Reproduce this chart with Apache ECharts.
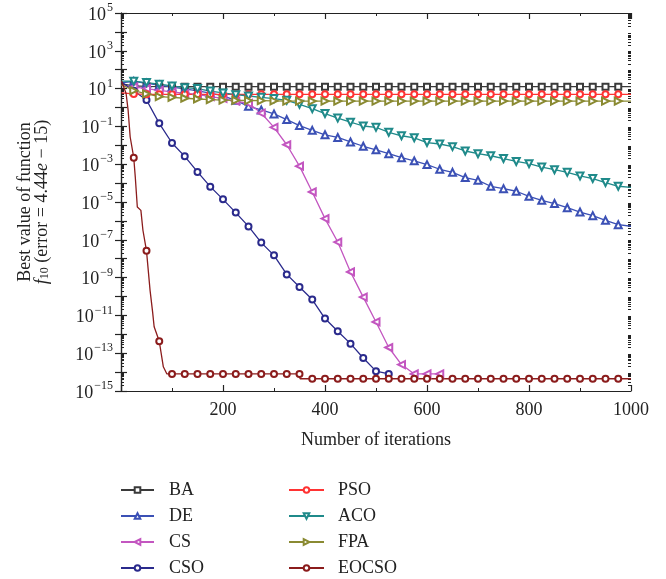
<!DOCTYPE html>
<html>
<head>
<meta charset="utf-8">
<script src="https://cdn.jsdelivr.net/npm/echarts@6/dist/echarts.min.js"></script>
<style>
  html, body { margin: 0; padding: 0; background: #fff; }
  #chart { width: 666px; height: 579px; }
</style>
</head>
<body>
<div id="chart"></div>
<script>
// Convergence of the best value of f10 (Ackley) over 1000 iterations
const iterations = [1, 25, 50, 75, 100, 125, 150, 175, 200, 225, 250, 275, 300, 325, 350, 375, 400, 425, 450, 475,
  500, 525, 550, 575, 600, 625, 650, 675, 700, 725, 750, 775, 800, 825, 850, 875, 900, 925, 950, 975, 1000];

const BA = [18, 14, 13, 12.6, 12.6, 12.6, 12.6, 12.6, 12.6, 12.6, 12.6, 12.6, 12.6, 12.6, 12.6, 12.6, 12.6, 12.6, 12.6, 12.6,
  12.6, 12.6, 12.6, 12.6, 12.6, 12.6, 12.6, 12.6, 12.6, 12.6, 12.6, 12.6, 12.6, 12.6, 12.6, 12.6, 12.6, 12.6, 12.6, 12.6, 12.6];

const PSO = [6, 5.2, 5, 5, 5, 5, 5, 5, 5, 5, 5, 5, 5, 5, 5, 5, 5, 5, 5, 5,
  5, 5, 5, 5, 5, 5, 5, 5, 5, 5, 5, 5, 5, 5, 5, 5, 5, 5, 5, 5, 5];

const DE = [20, 24, 19.1, 15.1, 12.0, 9.55, 7.59, 5.75, 4.17, 2.4, 1.15, 0.74, 0.457, 0.229, 0.11, 0.062, 0.036, 0.026, 0.015, 0.0089,
  0.0058, 0.0036, 0.0022, 0.0015, 0.00095, 5.4e-4, 3.7e-4, 1.95e-4, 1.4e-4, 6.8e-5, 5.1e-5, 3.7e-5, 2.0e-5, 1.23e-5, 8.3e-6, 5.0e-6,
  2.95e-6, 1.9e-6, 1.07e-6, 6.3e-7, 5.2e-7];

const ACO = [25.1, 24.5, 20.9, 17, 13.8, 11.2, 10, 7.41, 5.89, 4.79, 4.07, 3.47, 2.95, 2.4, 1.48, 0.87, 0.48, 0.275, 0.166, 0.105,
  0.089, 0.049, 0.032, 0.025, 0.014, 0.0117, 0.0085, 0.005, 0.0036, 0.0028, 0.002, 0.0014, 0.00107, 7.1e-4, 5.1e-4, 3.7e-4,
  2.4e-4, 1.74e-4, 1.07e-4, 6.8e-5, 6.0e-5];

const CS = [14.8, 12.3, 10, 8.13, 6.76, 5.5, 4.9, 3.8, 3.02, 2.14, 1.66, 0.51, 0.089, 0.0107, 7.9e-4, 3.4e-5, 1.32e-6, 7.6e-8, 2.0e-9, 9.3e-11,
  4.5e-12, 2.0e-13, 2.5e-14, 7.99e-15, 7.99e-15, 7.99e-15,
  null, null, null, null, null, null, null, null, null, null, null, null, null, null, null];

const FPA = [15.8, 7.9, 5.25, 3.8, 3.47, 3.09, 2.82, 2.63, 2.45, 2.4, 2.34, 2.29, 2.24, 2.19, 2.19, 2.19, 2.19, 2.19, 2.19, 2.19,
  2.19, 2.19, 2.19, 2.19, 2.19, 2.19, 2.19, 2.19, 2.19, 2.19, 2.19, 2.19, 2.19, 2.19, 2.19, 2.19, 2.19, 2.19, 2.19, 2.19, 2.19];

const CSO = [22.4, 7.76, 2.51, 0.145, 0.0132, 0.0026, 3.9e-4, 6.5e-5, 1.38e-5, 2.75e-6, 5.1e-7, 7.1e-8, 1.5e-8, 1.48e-9, 3.2e-10,
  6.9e-11, 6.8e-12, 1.45e-12, 3.2e-13, 5.6e-14, 1.12e-14, 7.99e-15,
  null, null, null, null, null, null, null, null, null, null, null, null, null, null, null, null, null, null, null];

// EOCSO falls steeply in the first 100 iterations, so it keeps its own finer iteration list
const eocsoIterations = [1, 10, 14, 18, 25, 28, 32, 39, 43, 50, 57, 62, 65, 75, 83, 90,
  100, 125, 150, 175, 200, 225, 250, 275, 300, 325, 350, 351,
  375, 400, 425, 450, 475, 500, 525, 550, 575, 600, 625, 650, 675, 700, 725, 750, 775, 800, 825, 850, 875, 900, 925, 950, 975, 1000];
const EOCSO = [25, 5.5, 0.7, 0.0275, 0.0022, 2.1e-4, 5.4e-6, 3.6e-6, 3.2e-7, 2.6e-8, 2.1e-10, 1.5e-11, 2.5e-12, 4.3e-13, 1.9e-14, 7.99e-15,
  7.99e-15, 7.99e-15, 7.99e-15, 7.99e-15, 7.99e-15, 7.99e-15, 7.99e-15, 7.99e-15, 7.99e-15, 7.99e-15, 7.99e-15, 4.44e-15,
  4.44e-15, 4.44e-15, 4.44e-15, 4.44e-15, 4.44e-15, 4.44e-15, 4.44e-15, 4.44e-15, 4.44e-15, 4.44e-15, 4.44e-15, 4.44e-15,
  4.44e-15, 4.44e-15, 4.44e-15, 4.44e-15, 4.44e-15, 4.44e-15, 4.44e-15, 4.44e-15, 4.44e-15, 4.44e-15, 4.44e-15, 4.44e-15, 4.44e-15, 4.44e-15];

const xTicks = [200, 400, 600, 800, 1000];
const yLabelExponents = [5, 3, 1, -1, -3, -5, -7, -9, -11, -13, -15];

const FONT = "'Liberation Serif', 'DejaVu Serif', serif";
const INK = '#222';

// log minor tick positions (2..9 x 10^d) between the decades of the y range
const yMinorTicks = [];
for (let d = -15; d < 5; d++) {
  for (let m = 2; m <= 9; m++) yMinorTicks.push(m * Math.pow(10, d));
}

// [iteration, value] points; a marker only every 25 iterations, none at the end points
function points(xs, ys) {
  const out = [];
  for (let i = 0; i < xs.length; i++) {
    if (ys[i] == null) continue;
    const it = xs[i];
    const marked = it % 25 === 0 && it >= 25 && it <= 975;
    out.push(marked ? [it, ys[i]] : { value: [it, ys[i]], symbol: 'none' });
  }
  return out;
}

function makeSeries(name, xs, ys, color, shape, rotate, size) {
  return {
    name: name,
    type: 'line',
    data: points(xs, ys),
    color: color,
    symbol: shape,
    symbolSize: size,
    symbolRotate: rotate,
    showAllSymbol: true,
    lineStyle: { width: 1.3, color: color },
    itemStyle: { color: color, borderWidth: 1.3 },
    emphasis: { disabled: true },
    animation: false
  };
}

const supDigits = (n) => String(n).replace('-', '\u2212');

const chart = echarts.init(document.getElementById('chart'), null, { renderer: 'canvas' });

const axisLineStyle = { color: INK, width: 1.2 };

function yAxisBase(position) {
  return {
    type: 'log', logBase: 10, min: 1e-15, max: 1e5, interval: 1, position: position,
    axisLine: { show: true, lineStyle: axisLineStyle },
    axisTick: { show: true, inside: true, length: 6, lineStyle: axisLineStyle },
    minorTick: { show: false },
    splitLine: { show: false },
    axisLabel: { show: false }
  };
}

function yMinorAxis(position) {
  return {
    type: 'log', logBase: 10, min: 1e-15, max: 1e5, position: position,
    axisLine: { show: false },
    axisTick: { show: true, inside: true, length: 3, customValues: yMinorTicks, lineStyle: { color: INK, width: 1 } },
    minorTick: { show: false },
    splitLine: { show: false },
    axisLabel: { show: false }
  };
}

const leftAxis = yAxisBase('left');
leftAxis.axisLabel = {
  show: true, margin: 8, color: INK, fontFamily: FONT, fontSize: 18,
  formatter: (v) => {
    const e = Math.round(Math.log10(v));
    if (yLabelExponents.indexOf(e) < 0) return '';
    return '{b|10}{s|' + supDigits(e) + '}';
  },
  rich: {
    b: { fontFamily: FONT, fontSize: 18, color: INK, lineHeight: 22, verticalAlign: 'bottom' },
    s: { fontFamily: FONT, fontSize: 12, color: INK, lineHeight: 22, verticalAlign: 'top', padding: [0, 0, 8, 1] }
  }
};

function xAxisBase(position) {
  return {
    type: 'value', min: 0, max: 1000, interval: 200, position: position,
    axisLine: { show: true, lineStyle: axisLineStyle },
    axisTick: { show: true, inside: true, length: 6, lineStyle: axisLineStyle },
    minorTick: { show: true, splitNumber: 2, length: 3, lineStyle: { color: INK, width: 1 } },
    splitLine: { show: false },
    axisLabel: { show: false }
  };
}

const bottomAxis = xAxisBase('bottom');
bottomAxis.axisLabel = {
  show: true, margin: 10, color: INK, fontFamily: FONT, fontSize: 18,
  formatter: (v) => (xTicks.indexOf(v) >= 0 ? String(v) : '')
};
bottomAxis.name = 'Number of iterations';
bottomAxis.nameLocation = 'middle';
bottomAxis.nameGap = 40;
bottomAxis.nameTextStyle = { color: INK, fontFamily: FONT, fontSize: 18 };

const legendText = { color: INK, fontFamily: FONT, fontSize: 18, lineHeight: 18 };

const option = {
  backgroundColor: '#fff',
  animation: false,
  grid: { left: 121, right: 35, top: 13, bottom: 188, containLabel: false },
  xAxis: [bottomAxis, xAxisBase('top')],
  yAxis: [leftAxis, yAxisBase('right'), yMinorAxis('left'), yMinorAxis('right')],
  legend: [
    {
      orient: 'vertical', left: 120, top: 481, padding: 0,
      itemWidth: 33, itemHeight: 7, itemGap: 8,
      data: ['BA', 'DE', 'CS', 'CSO'],
      textStyle: Object.assign({ padding: [0, 0, 0, 10] }, legendText),
      selectedMode: false
    },
    {
      orient: 'vertical', left: 288, top: 481, padding: 0,
      itemWidth: 35, itemHeight: 7, itemGap: 8,
      data: ['PSO', 'ACO', 'FPA', 'EOCSO'],
      textStyle: Object.assign({ padding: [0, 0, 0, 9] }, legendText),
      selectedMode: false
    }
  ],
  graphic: [
    {
      type: 'text', x: 34, y: 202, rotation: Math.PI / 2,
      style: {
        text: '{t|Best value of function}\n{i|f}{sub|10}{t| (error = 4.44}{i|e}{t| \u2212 15)}',
        align: 'center', verticalAlign: 'middle',
        rich: {
          t: { fontFamily: FONT, fontSize: 18, fill: INK, lineHeight: 17 },
          i: { fontFamily: FONT, fontSize: 18, fill: INK, fontStyle: 'italic', lineHeight: 17 },
          sub: { fontFamily: FONT, fontSize: 12, fill: INK, lineHeight: 17, verticalAlign: 'bottom', padding: [6, 0, 0, 0] }
        }
      }
    }
  ],
  series: [
    makeSeries('BA', iterations, BA, '#3a3a3a', 'emptyRect', 0, 6),
    makeSeries('DE', iterations, DE, '#3b50b5', 'emptyTriangle', 0, 7),
    makeSeries('CS', iterations, CS, '#c356c0', 'emptyTriangle', 90, 7),
    makeSeries('CSO', iterations, CSO, '#2a2a8c', 'emptyCircle', 0, 6),
    makeSeries('PSO', iterations, PSO, '#ff3333', 'emptyCircle', 0, 6),
    makeSeries('ACO', iterations, ACO, '#1f8a8a', 'emptyTriangle', 180, 7),
    makeSeries('FPA', iterations, FPA, '#8a8a32', 'emptyTriangle', -90, 7),
    makeSeries('EOCSO', eocsoIterations, EOCSO, '#8b1c1c', 'emptyCircle', 0, 6)
  ]
};

chart.setOption(option);
</script>
</body>
</html>
